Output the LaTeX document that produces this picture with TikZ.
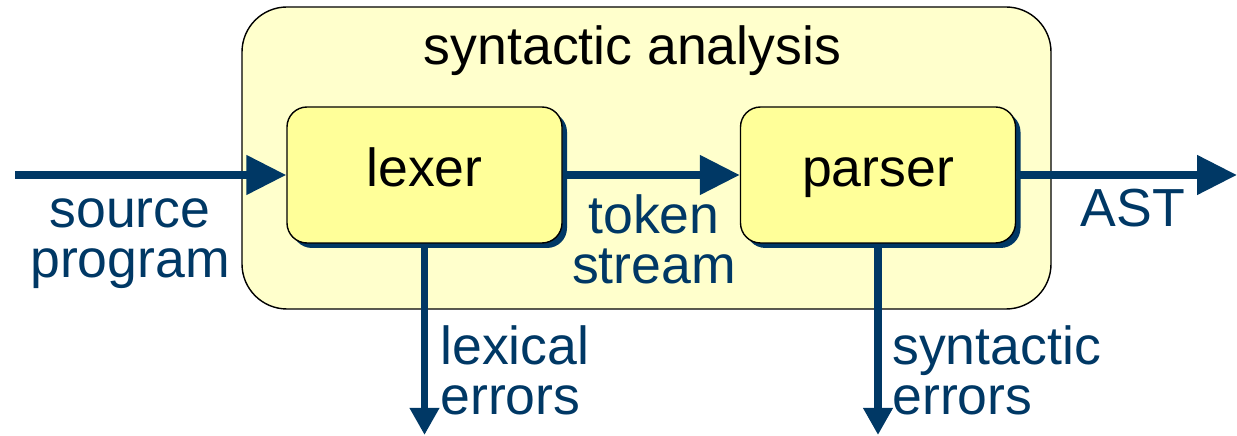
\documentclass[tikz,border=0pt]{standalone}
\usepackage{fontspec}
\setmainfont{Liberation Sans}
\usetikzlibrary{arrows.meta,shadows}

\definecolor{navy}{RGB}{0,56,101}
\definecolor{paleyellow}{RGB}{255,255,204}
\definecolor{boxyellow}{RGB}{255,255,153}

\tikzset{
  phase/.style={draw=black, line width=0.8pt, fill=boxyellow,
    rounded corners=0.4cm, minimum width=5.5cm, minimum height=2.72cm,
    text height=0.78cm, text depth=0.3cm,
    drop shadow={shadow xshift=0.1cm, shadow yshift=-0.1cm, fill=navy, opacity=1}},
  flow/.style={navy, line width=4.5pt, -{Triangle[length=0.8cm, width=0.76cm]}},
  errflow/.style={navy, line width=4.5pt, -{Triangle[length=0.54cm, width=0.56cm]}},
  lbl/.style={text=navy, inner sep=0pt, align=center, anchor=base},
}

\begin{document}
\begin{tikzpicture}[font=\fontsize{30.5}{28.5}\selectfont]
\useasboundingbox (0,0) rectangle (24.74,8.72);

% the analysis stage
\draw[fill=paleyellow, line width=0.8pt, rounded corners=0.9cm] (4.84,2.54) rectangle (21.02,8.58);
\node[anchor=base, inner sep=0pt] (title) at (12.65,7.42) {syntactic analysis};

\node[phase] (lexer) at (8.49,5.22) {lexer};
\node[phase] (parser) at (17.56,5.22) {parser};

\coordinate (src) at (0.3,5.22);
\coordinate (ast) at (24.74,5.22);
\coordinate (lexout) at (lexer.south |- 0,0.02);
\coordinate (parout) at (parser.south |- 0,0.02);

\draw[flow] (src) -- (lexer);
\draw[flow] (lexer) -- (parser);
\draw[flow] (parser) -- (ast);
\draw[errflow] (lexer) -- (lexout);
\draw[errflow] (parser) -- (parout);

% labels sit on the baseline of their last line
\node[lbl] (srclbl) at (2.6,3.16) {source\\program};
\node[lbl] (toklbl) at (13.08,3.04) {token\\stream};
\node[lbl] (astlbl) at (22.66,4.18) {AST};
\node[lbl, anchor=base west, align=left] (lexlbl) at (8.8,0.42) {lexical\\errors};
\node[lbl, anchor=base west, align=left] (synlbl) at (17.84,0.42) {syntactic\\errors};

\end{tikzpicture}
\end{document}
